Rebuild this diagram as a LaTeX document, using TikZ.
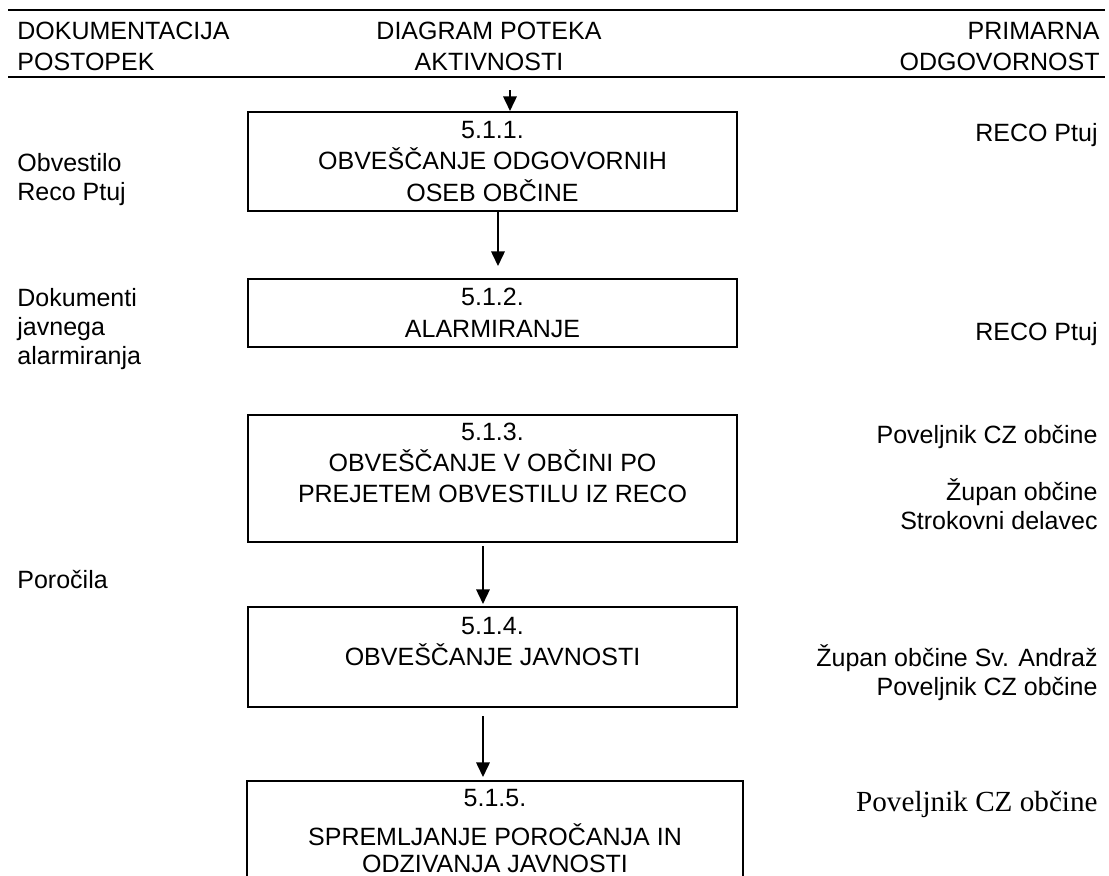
\documentclass[tikz,border=0pt]{standalone}
\usepackage{fontspec}
\setmainfont{Liberation Sans}
\newfontfamily\timesfont{Liberation Serif}
\usetikzlibrary{arrows.meta, positioning, calc}

\tikzset{
  actbox/.style={draw, line width=1pt, minimum width=234.7pt, align=center, font=\fontsize{12}{15}\selectfont},
  head/.style={font=\fontsize{12}{15}\selectfont, inner sep=0pt},
  note/.style={align=left, anchor=west, font=\fontsize{12}{13.8}\selectfont, inner sep=0pt},
  resp/.style={align=right, anchor=east, font=\fontsize{12}{13.8}\selectfont, inner sep=0pt},
  flow/.style={line width=0.8pt, -{Triangle[length=7pt,width=6.5pt]}},
  rule/.style={line width=1.3pt}
}

\begin{document}
\begin{tikzpicture}[x=0.48pt, y=-0.48pt]
  \useasboundingbox (0,0) rectangle (1109,875);

  % Glava
  \draw[rule] (8,10) -- (1105,10);
  \draw[rule] (8,77) -- (1105,77);
  \node[head, align=left, anchor=west] (hdok) at (17,46.6) {DOKUMENTACIJA\\POSTOPEK};
  \node[head, align=center] (hdiag) at (489,46.6) {DIAGRAM POTEKA\\AKTIVNOSTI};
  \node[head, align=right, anchor=east] (hodg) at (1100,46.6) {PRIMARNA\\ODGOVORNOST};

  % Aktivnosti
  \node[actbox, minimum height=47.5pt] (a1) at (492.5,161.5) {5.1.1.\\OBVEŠČANJE ODGOVORNIH\\OSEB OBČINE};
  \node[actbox, minimum height=32.6pt] (a2) at (492.5,313) {5.1.2.\\ALARMIRANJE};
  \node[actbox, minimum height=61pt] (a3) at (492.5,478.5) {5.1.3.\\OBVEŠČANJE V OBČINI PO\\PREJETEM OBVESTILU IZ RECO\\ \mbox{}};
  \node[actbox, minimum height=48pt] (a4) at (492.5,657) {5.1.4.\\OBVEŠČANJE JAVNOSTI\\ \mbox{}};
  \node[actbox, minimum width=238pt, inner ysep=3.84pt, anchor=north, font=\fontsize{12}{13}\selectfont] (a5) at (495,780) {5.1.5.\\[6pt]SPREMLJANJE POROČANJA IN\\ODZIVANJA JAVNOSTI\\ \mbox{}\\ \mbox{}};

  % Puscice
  \coordinate (vhod) at (510,90);
  \draw[flow] (vhod) -- (vhod |- a1.north);
  \draw[flow] ($(a1.south)+(5.5,0)$) -- ($(a2.north)+(5.5,-12)$);
  \draw[flow] ($(a3.south)+(-9.5,3)$) -- ($(a4.north)+(-9.5,-2)$);
  \draw[flow] ($(a4.south)+(-9.5,8)$) -- ($(a5.north)+(-12,-3)$);

  % Dokumentacija
  \node[note] (d1) at (17,179.9) {Obvestilo\\Reco Ptuj};
  \node[note] (d2) at (17,329) {Dokumenti\\javnega\\alarmiranja};
  \node[note] (d3) at (17,580) {Poročila};

  % Odgovornost
  \node[resp] (o1) at (1098,135.5) {RECO Ptuj};
  \node[resp] (o2) at (1098,334.5) {RECO Ptuj};
  \node[resp] (o3) at (1098,437) {Poveljnik CZ občine};
  \node[resp] (o4) at (1098,504) {Župan občine\\Strokovni delavec};
  \node[resp] (o5) at (1098,672.6) {Župan občine Sv. Andraž\\Poveljnik CZ občine};
  \node[resp, font=\timesfont\fontsize{14}{16}\selectfont] (o6) at (1098,804.7) {Poveljnik CZ občine};
\end{tikzpicture}
\end{document}
